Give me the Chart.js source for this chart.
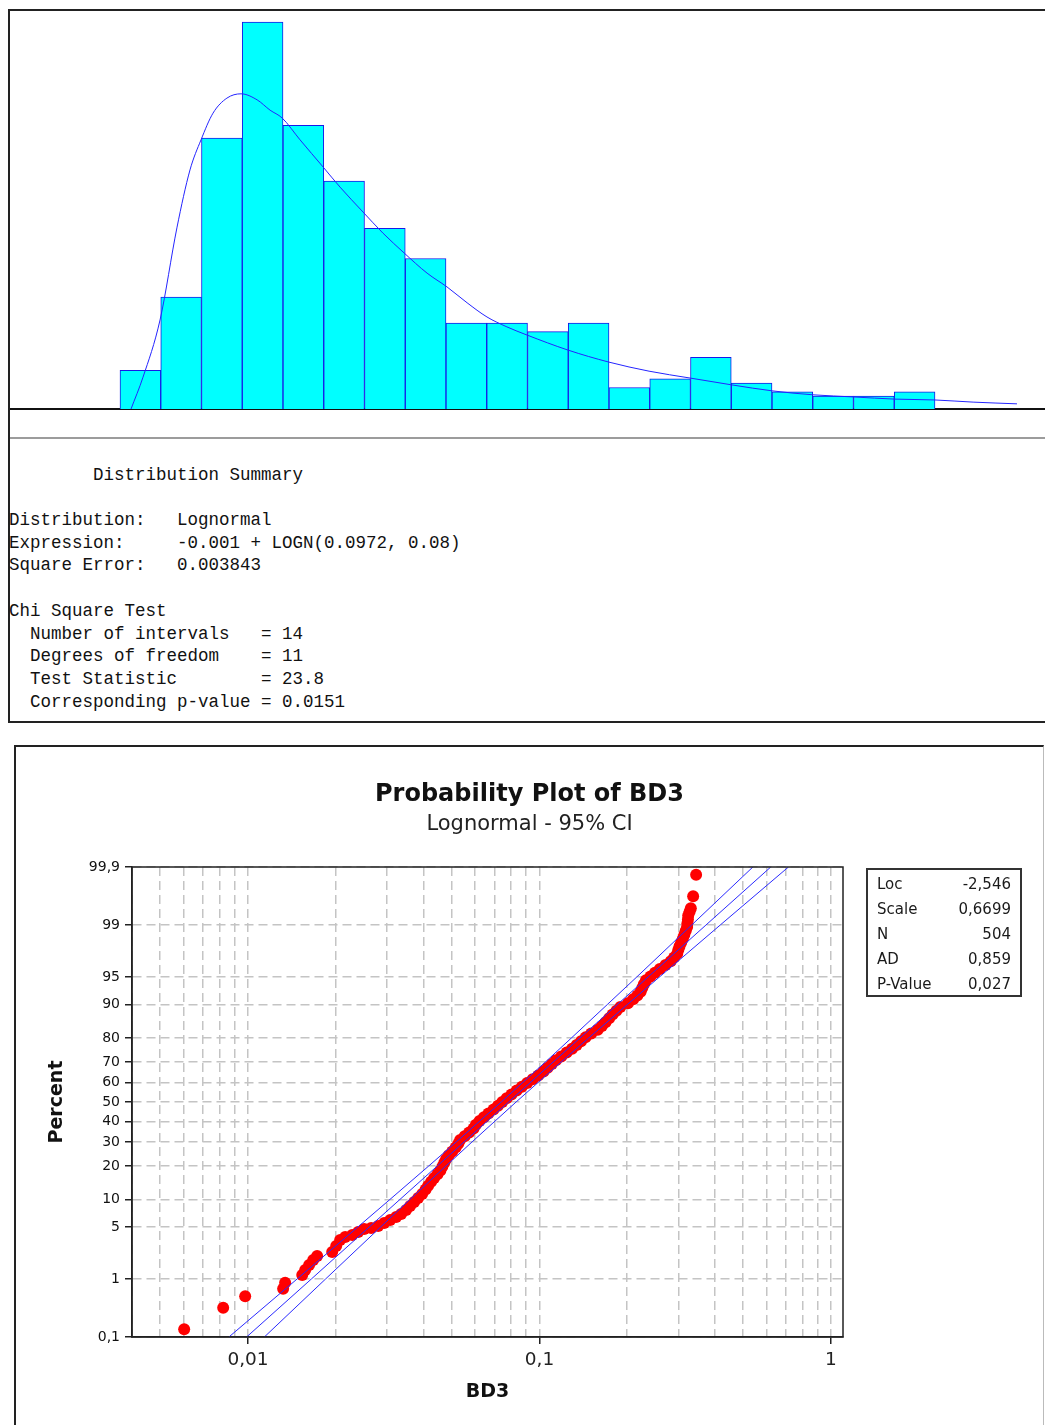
<!DOCTYPE html>
<html lang="en">
<head>
  <meta charset="UTF-8" />
  <title>BD3 Distribution Fit</title>
  <script src="https://cdn.jsdelivr.net/npm/chart.js"></script>
  <style>
    body { margin: 0; background: #fff; }
    #page { position: relative; width: 1045px; height: 1425px; overflow: hidden; }
    .panel { position: absolute; box-sizing: border-box; }
    #topPanel { left: 8px; top: 9px; width: 1045px; height: 714px; border-top: 2px solid #222; border-left: 2px solid #222; border-bottom: 2px solid #222; }
    #bottomPanel { left: 14px; top: 745px; width: 1030px; height: 700px; border-top: 2px solid #222; border-left: 2px solid #222; border-right: 1px solid #bbb; }
    #histChart { position: absolute; left: 10px; top: 11px; }
    #probChart { position: absolute; left: 16px; top: 747px; }
    .sep { position: absolute; left: 10px; top: 437px; width: 1035px; height: 2px; background: #9c9c9c; }
    pre.summary { position: absolute; left: 9px; top: 463.6px; margin: 0; font-family: "Liberation Mono", monospace; font-size: 17.5px; line-height: 22.7px; color: #111; }
    .stats { position: absolute; left: 866px; top: 868px; width: 156px; height: 129px; box-sizing: border-box; border: 2px solid #333; padding: 1.5px 9px 0 9px; font-family: "DejaVu Sans", sans-serif; font-size: 15px; color: #1a1a1a; }
    .stats div { display: flex; justify-content: space-between; height: 25px; line-height: 25px; }
  </style>
</head>
<body>
<div id="page">
  <div class="panel" id="topPanel"></div>
  <canvas id="histChart" width="1035" height="400"></canvas>
  <div class="sep"></div>
  <pre class="summary">        Distribution Summary

Distribution:   Lognormal
Expression:     -0.001 + LOGN(0.0972, 0.08)
Square Error:   0.003843

Chi Square Test
  Number of intervals   = 14
  Degrees of freedom    = 11
  Test Statistic        = 23.8
  Corresponding p-value = 0.0151</pre>

  <div class="panel" id="bottomPanel"></div>
  <canvas id="probChart" width="1027" height="678"></canvas>
  <div class="stats">
    <div><span>Loc</span><span>-2,546</span></div>
    <div><span>Scale</span><span>0,6699</span></div>
    <div><span>N</span><span>504</span></div>
    <div><span>AD</span><span>0,859</span></div>
    <div><span>P-Value</span><span>0,027</span></div>
  </div>
</div>
<script>
  // ---- histogram + fitted lognormal density ----
  const binMid = [0.0085, 0.0255, 0.0425, 0.0595, 0.0765, 0.0935, 0.1105, 0.1275, 0.1445, 0.1615,
                  0.1785, 0.1955, 0.2125, 0.2295, 0.2465, 0.2635, 0.2805, 0.2975, 0.3145, 0.3315];
  const binCount = [9, 26, 63, 90, 66, 53, 42, 35, 20, 20, 18, 20, 5, 7, 12, 6, 4, 3, 3, 4];

  const curveX = [0.0046, 0.0096, 0.0167, 0.0238, 0.0292, 0.0338, 0.0388, 0.0446, 0.0505, 0.0572,
                  0.0626, 0.0676, 0.0751, 0.0847, 0.0918, 0.1014, 0.1097, 0.1185, 0.1281, 0.1364,
                  0.1448, 0.1531, 0.1614, 0.1698, 0.1869, 0.2040, 0.2207, 0.2378, 0.2553, 0.2724,
                  0.2891, 0.3062, 0.3233, 0.3400, 0.3559, 0.3742];
  const curveY = [0, 7.4, 20.7, 42.3, 55.6, 62.6, 68.8, 72.3, 73.3, 71.9,
                  69.5, 67.7, 62.6, 56.3, 51.6, 45.8, 40.9, 36.3, 31.6, 28.4,
                  24.7, 21.4, 19.1, 17.2, 13.7, 10.9, 8.8, 7.2, 5.6, 4.2,
                  3.3, 2.8, 2.3, 2.1, 1.6, 1.2];

  // ---- probability plot ----
  const probX = [
    0.00604, 0.00822, 0.00978, 0.01320, 0.01341, 0.01535, 0.01571, 0.01621, 0.01674, 0.01727,
    0.01945, 0.02007, 0.02071, 0.02155, 0.02278, 0.02388, 0.02504, 0.02646, 0.02797, 0.02933,
    0.03075, 0.03224, 0.03354, 0.03488, 0.03600, 0.03717, 0.03836, 0.03959,
    0.04067, 0.04151, 0.04250, 0.04352, 0.04467, 0.04574, 0.04643, 0.04714, 0.04785, 0.04884,
    0.05021, 0.05157, 0.05264, 0.05344, 0.05537, 0.05737, 0.05940, 0.06054, 0.06228, 0.06449,
    0.06682, 0.06957, 0.07203, 0.07454, 0.07717, 0.08015, 0.08352, 0.08702, 0.09074, 0.09477,
    0.09906, 0.10329, 0.10669, 0.11029, 0.11392, 0.11880, 0.12397, 0.12937, 0.13415, 0.13889,
    0.14391, 0.15054, 0.15849, 0.16383, 0.16856, 0.17342, 0.17814, 0.18372, 0.18947, 0.20117,
    0.20960, 0.21668, 0.22240, 0.22523, 0.22809, 0.23190, 0.24029, 0.24899, 0.25882, 0.27074,
    0.28209, 0.28976, 0.29694, 0.29953, 0.30239, 0.30647, 0.31062, 0.31407, 0.31756, 0.32109,
    0.32185, 0.32312, 0.32389, 0.32750, 0.33061,
    0.3367, 0.3447
  ];
  const probPct = [
    0.14, 0.34, 0.53, 0.70, 0.87, 1.15, 1.36, 1.61, 1.89, 2.14,
    2.43, 2.91, 3.48, 3.79, 4.01, 4.37, 4.75, 4.88, 5.15, 5.58,
    6.03, 6.53, 7.04, 7.78, 8.57, 9.43, 10.34, 11.31,
    12.51, 13.57, 14.69, 15.87, 17.11, 18.41, 19.77, 21.19, 22.66, 24.20,
    25.78, 27.43, 29.12, 30.85, 32.64, 34.46, 36.32, 38.21, 40.13, 42.07,
    44.04, 46.02, 48.01, 50.00, 51.99, 53.98, 55.96, 57.93, 59.87, 61.79,
    63.68, 65.54, 67.36, 69.15, 70.88, 72.57, 74.22, 75.80, 77.34, 78.81,
    80.23, 81.59, 82.89, 84.13, 85.31, 86.43, 87.49, 88.49, 89.44, 90.32,
    91.15, 91.92, 92.65, 93.32, 93.94, 94.52, 95.05, 95.54, 95.99, 96.41,
    96.78, 97.13, 97.44, 97.72, 97.98, 98.21, 98.42, 98.61, 98.78, 98.93,
    99.06, 99.18, 99.29, 99.38, 99.46,
    99.66, 99.86
  ];

  // fitted line and 95% confidence band, read at these percents
  const bandPct = [0.1, 1, 5, 10, 20, 30, 50, 70, 80, 90, 95, 99, 99.9];
  const fitX    = [0.00989, 0.01651, 0.02604, 0.03321, 0.04461, 0.05515, 0.0784, 0.1113, 0.1377, 0.1850, 0.2360, 0.3724, 0.6216];
  const lowerX  = [0.00860, 0.01475, 0.02380, 0.03069, 0.04169, 0.05185, 0.07393, 0.1047, 0.1287, 0.1709, 0.2158, 0.3326, 0.5398];
  const upperX  = [0.01138, 0.01847, 0.02849, 0.03594, 0.04776, 0.05872, 0.08314, 0.1186, 0.1475, 0.2002, 0.2582, 0.4169, 0.7149];

  const pctTicks = [0.1, 1, 5, 10, 20, 30, 40, 50, 60, 70, 80, 90, 95, 99, 99.9];
  const xGrid = [0.004, 0.005, 0.006, 0.007, 0.008, 0.009, 0.01, 0.02, 0.03, 0.04, 0.05, 0.06, 0.07, 0.08, 0.09,
                 0.1, 0.2, 0.3, 0.4, 0.5, 0.6, 0.7, 0.8, 0.9, 1];
  const xLabelTicks = [0.01, 0.1, 1];

  const comma = v => String(v).replace('.', ',');

  // inverse standard normal CDF (Acklam)
  function probit(p) {
    const a = [-3.969683028665376e+01, 2.209460984245205e+02, -2.759285104469687e+02, 1.383577518672690e+02, -3.066479806614716e+01, 2.506628277459239e+00];
    const b = [-5.447609879822406e+01, 1.615858368580409e+02, -1.556989798598866e+02, 6.680131188771972e+01, -1.328068155288572e+01];
    const c = [-7.784894002430293e-03, -3.223964580411365e-01, -2.400758277161838e+00, -2.549732539343734e+00, 4.374664141464968e+00, 2.938163982698783e+00];
    const d = [7.784695709041462e-03, 3.224671290700398e-01, 2.445134137142996e+00, 3.754408661907416e+00];
    const pl = 0.02425;
    if (p < pl) {
      const q = Math.sqrt(-2 * Math.log(p));
      return (((((c[0]*q+c[1])*q+c[2])*q+c[3])*q+c[4])*q+c[5]) / ((((d[0]*q+d[1])*q+d[2])*q+d[3])*q+1);
    }
    if (p > 1 - pl) {
      const q = Math.sqrt(-2 * Math.log(1 - p));
      return -(((((c[0]*q+c[1])*q+c[2])*q+c[3])*q+c[4])*q+c[5]) / ((((d[0]*q+d[1])*q+d[2])*q+d[3])*q+1);
    }
    const q = p - 0.5, r = q * q;
    return (((((a[0]*r+a[1])*r+a[2])*r+a[3])*r+a[4])*r+a[5])*q / (((((b[0]*r+b[1])*r+b[2])*r+b[3])*r+b[4])*r+1);
  }

  // normal-probability axis, values in percent
  class ProbitScale extends Chart.Scale {
    determineDataLimits() {
      this.min = this.options.min;
      this.max = this.options.max;
    }
    buildTicks() {
      return pctTicks.map(v => ({ value: v }));
    }
    getLabelForValue(v) { return comma(v); }
    configure() {
      super.configure();
      this._zStart = probit(this.min / 100);
      this._zRange = probit(this.max / 100) - this._zStart;
    }
    getPixelForValue(v) {
      return this.getPixelForDecimal((probit(v / 100) - this._zStart) / this._zRange);
    }
    getValueForPixel(px) {
      const z = this._zStart + this.getDecimalForPixel(px) * this._zRange;
      let lo = this.min, hi = this.max;
      for (let i = 0; i < 40; i++) {
        const mid = (lo + hi) / 2;
        if (probit(mid / 100) < z) lo = mid; else hi = mid;
      }
      return (lo + hi) / 2;
    }
  }
  ProbitScale.id = 'probit';
  ProbitScale.defaults = {};
  Chart.register(ProbitScale);

  Chart.defaults.font.family = '"DejaVu Sans", sans-serif';
  Chart.defaults.color = '#222';

  new Chart(document.getElementById('histChart'), {
    type: 'bar',
    data: {
      datasets: [
        {
          type: 'line',
          data: curveX.map((x, i) => ({ x, y: curveY[i] })),
          borderColor: '#2424ff',
          borderWidth: 1,
          pointRadius: 0,
          cubicInterpolationMode: 'monotone'
        },
        {
          type: 'bar',
          data: binMid.map((x, i) => ({ x, y: binCount[i] })),
          backgroundColor: '#00ffff',
          borderColor: '#1818e8',
          borderWidth: 1,
          barPercentage: 1,
          categoryPercentage: 1
        }
      ]
    },
    options: {
      responsive: false,
      animation: false,
      devicePixelRatio: 1,
      events: [],
      layout: { padding: 0 },
      plugins: { legend: { display: false }, tooltip: { enabled: false } },
      scales: {
        x: {
          type: 'linear',
          min: -0.04589,
          max: 0.38589,
          offset: false,
          grid: { display: false, drawTicks: false },
          ticks: { display: false },
          border: { display: true, color: '#111', width: 2 },
          afterFit: s => { s.height = 2; }
        },
        y: { display: false, min: 0, max: 92.56 }
      }
    }
  });

  // closes the plot box on the top and right
  const frame = {
    id: 'frame',
    afterDatasetsDraw(chart) {
      const { ctx, chartArea: a } = chart;
      ctx.save();
      ctx.strokeStyle = '#222';
      ctx.lineWidth = 1.5;
      ctx.strokeRect(a.left, a.top, a.right - a.left, a.bottom - a.top);
      ctx.restore();
    }
  };

  const ciLine = (xs, color) => ({
    data: xs.map((x, i) => ({ x, y: bandPct[i] })),
    showLine: true,
    borderColor: color,
    borderWidth: 1,
    pointRadius: 0
  });

  new Chart(document.getElementById('probChart'), {
    type: 'scatter',
    data: {
      datasets: [
        ciLine(lowerX, '#2a2aff'),
        ciLine(fitX, '#2a2aff'),
        ciLine(upperX, '#2a2aff'),
        {
          data: probX.map((x, i) => ({ x, y: probPct[i] })),
          pointRadius: 6,
          pointBackgroundColor: '#ff0000',
          pointBorderWidth: 0,
          borderColor: '#ff0000'
        }
      ]
    },
    options: {
      responsive: false,
      animation: false,
      devicePixelRatio: 1,
      events: [],
      layout: { padding: 0 },
      plugins: {
        legend: { display: false },
        tooltip: { enabled: false },
        title: {
          display: true,
          text: 'Probability Plot of BD3',
          color: '#111',
          font: { size: 24, weight: 'bold', lineHeight: 1.2 },
          padding: { top: 33.6, bottom: 0 }
        },
        subtitle: {
          display: true,
          text: 'Lognormal - 95% CI',
          color: '#222',
          font: { size: 21, lineHeight: 1.2 },
          padding: { top: 3, bottom: 29.4 }
        }
      },
      scales: {
        x: {
          type: 'logarithmic',
          min: 0.004,
          max: 1.1,
          bounds: 'data',
          afterBuildTicks: s => { s.ticks = xGrid.map(v => ({ value: v })); },
          afterFit: s => { s.height = 88; },
          ticks: {
            autoSkip: false,
            maxRotation: 0,
            padding: 5,
            font: { size: 18.5 },
            callback: v => xLabelTicks.includes(v) ? comma(v) : ''
          },
          grid: {
            color: '#c4c4c4',
            lineWidth: 1.5,
            tickLength: 7,
            tickWidth: 1.5,
            tickColor: c => (c.tick && xLabelTicks.includes(c.tick.value)) ? '#222' : 'rgba(0,0,0,0)'
          },
          border: { display: true, color: '#222', width: 1.5, dash: [9, 5] },
          title: {
            display: true,
            text: 'BD3',
            color: '#111',
            font: { size: 19, weight: 'bold', lineHeight: 1.2 },
            padding: { top: 0, bottom: 21.6 }
          }
        },
        y: {
          type: 'probit',
          min: 0.1,
          max: 99.9,
          afterFit: s => { s.width = 116; },
          ticks: {
            autoSkip: false,
            padding: 5,
            color: '#111',
            font: { size: 14 },
            callback: v => comma(v)
          },
          grid: {
            color: '#c4c4c4',
            lineWidth: 1.5,
            tickLength: 7,
            tickWidth: 1.5,
            tickColor: '#222'
          },
          border: { display: true, color: '#222', width: 1.5, dash: [9, 5] },
          title: {
            display: true,
            text: 'Percent',
            color: '#111',
            font: { size: 19, weight: 'bold', lineHeight: 1.2 },
            padding: { top: 29.6, bottom: 0 }
          }
        },
        // empty right-hand axis that reserves room for the stats box
        side: {
          type: 'linear',
          position: 'right',
          display: true,
          grid: { display: false, drawTicks: false },
          ticks: { display: false },
          border: { display: false },
          afterFit: s => { s.width = 200; }
        }
      }
    },
    plugins: [frame]
  });
</script>
</body>
</html>
